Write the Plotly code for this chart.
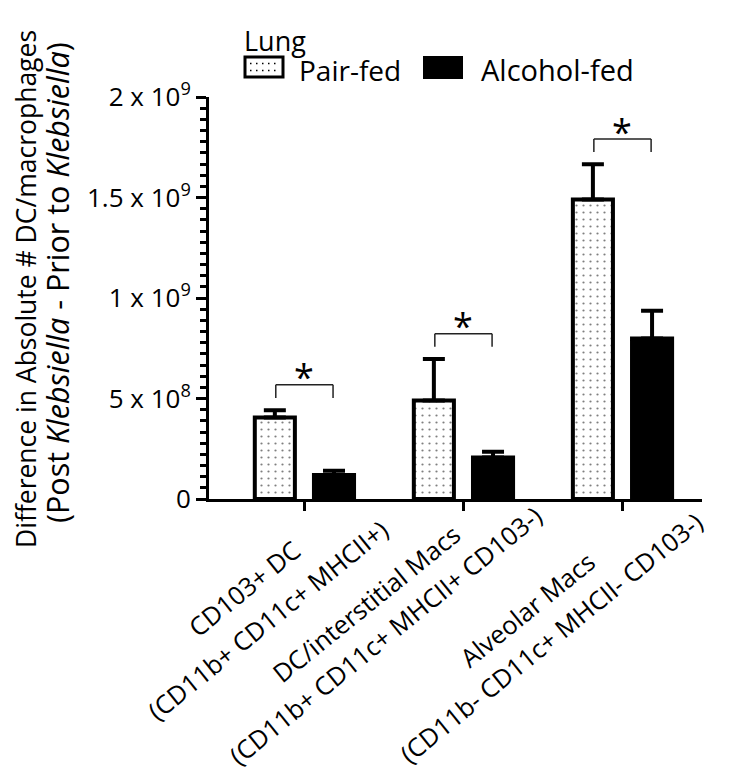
import plotly.graph_objects as go

# ---------------- data ----------------
categories = ["CD103+ DC", "DC/interstitial Macs", "Alveolar Macs"]
cat_line1 = ["CD103+ DC", "DC/interstitial Macs", "Alveolar Macs"]
cat_line2 = ["(CD11b+ CD11c+ MHCII+)", "(CD11b+ CD11c+ MHCII+ CD103-)",
             "(CD11b- CD11c+ MHCII- CD103-)"]
pair_fed = [4.06e8, 4.90e8, 1.49e9]
pair_fed_err = [3.6e7, 2.06e8, 1.75e8]
alcohol_fed = [1.19e8, 2.07e8, 7.99e8]
alcohol_fed_err = [2.2e7, 2.8e7, 1.38e8]
significant = [True, True, True]
ytick_vals = [0, 5e8, 1e9, 1.5e9, 2e9]
ytick_text = ["0", "5 x 10<sup>8</sup>", "1 x 10<sup>9</sup>",
              "1.5 x 10<sup>9</sup>", "2 x 10<sup>9</sup>"]

# ---------------- layout geometry ----------------
OX, OY = 8, 8                      # page body margin
W, H = 735 - OX, 774 - OY
L, R, T, B = 209 - OX, 33, 97 - OY, 275
FONT = "Open Sans"
BAR_W = 0.252
OFF = 0.186


def px(x):
    """screen pixel x -> paper x"""
    return (x - OX - L) / (W - L - R)


def py(y):
    """screen pixel y -> paper y"""
    return (OY + H - B - y) / (H - T - B)


fig = go.Figure()

fig.add_trace(go.Bar(
    x=categories, y=pair_fed, name="Pair-fed",
    width=BAR_W, offset=-OFF - BAR_W / 2,
    marker=dict(color="white", line=dict(color="black", width=4),
                pattern=dict(shape=".", fgcolor="black", bgcolor="white",
                             size=7, solidity=0.08)),
    error_y=dict(type="data", symmetric=False, array=pair_fed_err,
                 arrayminus=[0] * len(pair_fed_err),
                 color="black", thickness=4, width=11),
    showlegend=False,
))
fig.add_trace(go.Bar(
    x=categories, y=alcohol_fed, name="Alcohol-fed",
    width=BAR_W, offset=OFF - BAR_W / 2,
    marker=dict(color="black", line=dict(color="black", width=4)),
    error_y=dict(type="data", symmetric=False, array=alcohol_fed_err,
                 arrayminus=[0] * len(alcohol_fed_err),
                 color="black", thickness=4, width=11),
    showlegend=False,
))

shapes = []
annotations = []

# significance brackets
BR_GAP = 0.061e9
BR_H = 0.065e9
BR_X = 0.18
for i, sig in enumerate(significant):
    if not sig:
        continue
    y_low = pair_fed[i] + pair_fed_err[i] + BR_GAP
    y_top = y_low + BR_H
    for (x0, y0, x1, y1) in [(i - BR_X, y_low, i - BR_X, y_top),
                             (i - BR_X, y_top, i + BR_X, y_top),
                             (i + BR_X, y_top, i + BR_X, y_low)]:
        shapes.append(dict(type="line", xref="x", yref="y", x0=x0, y0=y0,
                           x1=x1, y1=y1, line=dict(color="#222", width=1.5)))
    annotations.append(dict(text="*", x=i, y=y_top, xref="x", yref="y",
                            showarrow=False, xanchor="center", yanchor="middle",
                            yshift=8, font=dict(family=FONT, size=36, color="black")))

# category labels (rotated), one annotation per line: (dx from tick, screen y)
line1_pos = [(-60, 588), (-97, 603), (-95, 609)]
line2_pos = [(-37, 620), (-78, 635), (-71, 637)]
for i in range(len(categories)):
    for txt, (dx, yy) in ((cat_line1[i], line1_pos[i]), (cat_line2[i], line2_pos[i])):
        annotations.append(dict(text=txt, x=i, y=py(yy), xref="x", yref="paper",
                                xshift=dx, showarrow=False, textangle=-39,
                                xanchor="center", yanchor="middle", borderpad=0,
                                font=dict(family=FONT, size=25.5, color="black")))

# y-axis title (two lines)
annotations.append(dict(
    text="Difference in Absolute # DC/macrophages",
    x=px(26), y=py(289), xref="paper", yref="paper", showarrow=False,
    textangle=-90, xanchor="center", yanchor="middle", borderpad=0,
    font=dict(family=FONT, size=26.5, color="black")))
annotations.append(dict(
    text="(Post <i>Klebsiella</i> - Prior to <i>Klebsiella</i>)",
    x=px(57), y=py(283), xref="paper", yref="paper", showarrow=False,
    textangle=-90, xanchor="center", yanchor="middle", borderpad=0,
    font=dict(family=FONT, size=30.5, color="black")))

# legend (drawn manually)
annotations.append(dict(text="Lung", x=px(242), y=py(41), xref="paper", yref="paper",
                        showarrow=False, xanchor="left", yanchor="middle",
                        font=dict(family=FONT, size=27, color="black")))
shapes.append(dict(type="rect", xref="paper", yref="paper", x0=px(245), x1=px(283),
                   y0=py(77), y1=py(57), fillcolor="white",
                   line=dict(color="black", width=3)))
for yy in (63.5, 70.5):
    shapes.append(dict(type="line", xref="paper", yref="paper", x0=px(250), x1=px(279),
                       y0=py(yy), y1=py(yy),
                       line=dict(color="black", width=1.5, dash="1.5px,4.5px")))
annotations.append(dict(text="Pair-fed", x=px(297), y=py(70), xref="paper", yref="paper",
                        showarrow=False, xanchor="left", yanchor="middle",
                        font=dict(family=FONT, size=28, color="black")))
shapes.append(dict(type="rect", xref="paper", yref="paper", x0=px(424), x1=px(462),
                   y0=py(78), y1=py(57), fillcolor="black",
                   line=dict(color="black", width=2)))
annotations.append(dict(text="Alcohol-fed", x=px(479), y=py(70), xref="paper", yref="paper",
                        showarrow=False, xanchor="left", yanchor="middle",
                        font=dict(family=FONT, size=29, color="black")))

fig.update_layout(
    width=W, height=H,
    margin=dict(l=L, r=R, t=T, b=B, pad=0),
    plot_bgcolor="white", paper_bgcolor="white",
    barmode="overlay",
    showlegend=False,
    font=dict(family=FONT, color="black"),
    shapes=shapes,
    annotations=annotations,
    xaxis=dict(
        type="category", range=[-0.6, 2.5],
        showline=True, linecolor="black", linewidth=3,
        ticks="outside", ticklen=9, tickwidth=3, tickcolor="black",
        showticklabels=False, showgrid=False, zeroline=False,
    ),
    yaxis=dict(
        range=[0, 2e9],
        tickmode="array", tickvals=ytick_vals, ticktext=ytick_text,
        tickfont=dict(family=FONT, size=26, color="black"),
        showline=True, linecolor="black", linewidth=3,
        ticks="outside", ticklen=10, tickwidth=3, tickcolor="black",
        minor=dict(tickmode="linear", dtick=5e8 / 9, tick0=0, ticks="outside",
                   ticklen=6, tickwidth=3, tickcolor="black", showgrid=False),
        showgrid=False, zeroline=False,
    ),
)

fig.write_html("out.html")
